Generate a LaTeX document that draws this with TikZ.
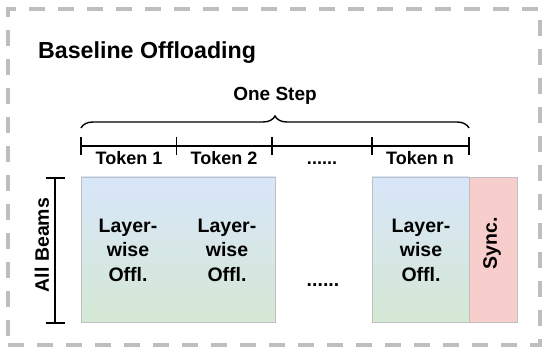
\documentclass[tikz,border=0pt]{standalone}
\usepackage{fontspec}
\setmainfont{Liberation Sans}
\usetikzlibrary{decorations.pathreplacing}
\definecolor{offlTop}{RGB}{216,230,250}
\definecolor{offlBot}{RGB}{213,232,212}
\definecolor{syncFill}{RGB}{248,206,204}
\definecolor{frameGray}{RGB}{190,190,190}
\begin{document}
\begin{tikzpicture}[x=1pt, y=-1pt, every node/.style={align=center}]
\tikzset{
  frame/.style={draw=frameGray, line width=3.5pt, dash pattern=on 16pt off 13pt, minimum width=532pt, minimum height=336pt, inner sep=0pt},
  heading/.style={font=\bfseries\fontsize{23.2}{27}\selectfont, inner sep=0pt},
  steplabel/.style={font=\bfseries\fontsize{19}{22}\selectfont, inner sep=0pt},
  tokenlabel/.style={font=\bfseries\fontsize{18}{21}\selectfont, inner sep=0pt},
  offlbox/.style={draw=black!25, line width=0.6pt, top color=offlTop, bottom color=offlBot, minimum height=145pt, inner sep=0pt},
  syncbox/.style={draw=black!25, line width=0.6pt, fill=syncFill, minimum height=145pt, minimum width=48pt, inner sep=0pt},
  offltext/.style={font=\bfseries\fontsize{19.5}{24.5}\selectfont, inner sep=0pt},
  timeline/.style={line width=1.6pt},
  bracket/.style={line width=1.4pt, decorate, decoration={brace, amplitude=12pt}}
}
\useasboundingbox (0,0) rectangle (542,347);
\node[frame] (frame) at (274,177) {};
\node[heading, anchor=base west] (title) at (38,59) {Baseline Offloading};

% one step brace
\coordinate (b0) at (81,128);
\coordinate (b1) at (469,128);
\draw[bracket] (b0) -- (b1);
\node[steplabel, anchor=base] (onestep) at (275,101) {One Step};

% token timeline
\coordinate (t0) at (81,146);
\coordinate (t1) at (176.5,146);
\coordinate (t2) at (272,146);
\coordinate (t3) at (372,146);
\coordinate (t4) at (469,146);
\draw[timeline] (t0) -- (t4);
\foreach \t in {t0,t1,t2,t3,t4}
  \draw[timeline] ([yshift=-9pt]\t) -- ([yshift=9pt]\t);
\node[tokenlabel, anchor=base] (tok1) at (129,165) {Token 1};
\node[tokenlabel, anchor=base] (tok2) at (224,165) {Token 2};
\node[tokenlabel, anchor=base] (tokdots) at (322,165) {......};
\node[tokenlabel, anchor=base] (tokn) at (420,165) {Token n};

% beams
\node[offlbox, minimum width=194pt] (offl12) at (178,249.5) {};
\node[offlbox, minimum width=97pt] (offln) at (420.5,249.5) {};
\node[syncbox] (sync) at (493,249.5) {};
\node[offltext] (lw1) at (128,250) {Layer-\\wise\\Offl.};
\node[offltext] (lw2) at (227,250) {Layer-\\wise\\Offl.};
\node[offltext] (lwn) at (421,250) {Layer-\\wise\\Offl.};
\node[offltext, rotate=90] (synctext) at (492,243) {Sync.};
\node[offltext, anchor=base] (beamdots) at (323,287) {......};

% all beams bar
\coordinate (a0) at (55,178);
\coordinate (a1) at (55,323);
\draw[timeline] (a0) -- (a1);
\draw[timeline] ([xshift=-9.5pt]a0) -- ([xshift=9.5pt]a0);
\draw[timeline] ([xshift=-9.5pt]a1) -- ([xshift=9.5pt]a1);
\node[offltext, rotate=90] (beams) at (42,245) {All Beams};
\end{tikzpicture}
\end{document}
